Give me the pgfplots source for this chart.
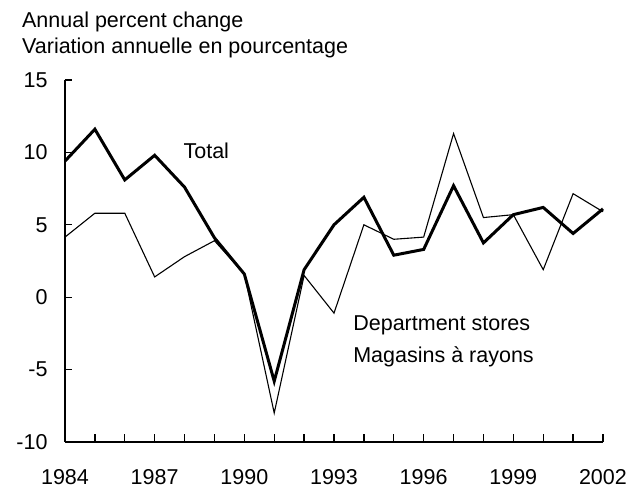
\documentclass[border=0pt]{standalone}
\usepackage{fontspec}
\setmainfont{Liberation Sans}
\usepackage{pgfplots}
\pgfplotsset{compat=1.18}
\usepackage{pgfplotstable}
\pgfplotstableread{
year total dept
1984 9.4 4.15
1985 11.6 5.8
1986 8.1 5.8
1987 9.8 1.4
1988 7.6 2.8
1989 4.1 3.9
1990 1.6 1.6
1991 -5.8 -8.0
1992 1.9 1.5
1993 5.0 -1.1
1994 6.9 5.0
1995 2.9 4.0
1996 3.3 4.15
1997 7.7 11.3
1998 3.75 5.5
1999 5.7 5.7
2000 6.2 1.9
2001 4.4 7.15
2002 6.1 5.9
}\data
\begin{document}
\begin{tikzpicture}
\begin{axis}[
  at={(0,0)}, anchor=south west,
  scale only axis, width=538pt, height=362pt,
  xmin=1984, xmax=2002, ymin=-10, ymax=15,
  axis lines=left,
  axis line style={line width=1.3pt, -},
  xtick={1984,...,2002},
  xticklabels={1984,,,1987,,,1990,,,1993,,,1996,,,1999,,,2002},
  ytick={-10,-5,0,5,10,15},
  yticklabels={-10,-5,0,5,10,15},
  tick align=inside,
  major tick length=7.5pt,
  tick style={line width=1.3pt, black},
  every tick label/.style={font=\fontsize{21.5}{25}\selectfont},
  xticklabel style={yshift=-24pt},
  yticklabel style={xshift=-14pt},
  clip=false,
  font=\fontsize{21.5}{25}\selectfont,
]
\addplot[black, line width=1.1pt] table[x=year,y=dept] {\data};
\addplot[black, line width=3pt, line join=miter] table[x=year,y=total] {\data};
\node[anchor=base west, inner sep=0] at (axis cs:1987.96,9.58) {Total};
\node[anchor=base west, inner sep=0] at (axis cs:1993.64,-2.30) {Department stores};
\node[anchor=base west, inner sep=0] at (axis cs:1993.64,-4.50) {Magasins à rayons};
\node[anchor=base west, inner sep=0] at (axis cs:1982.56,18.64) {Annual percent change};
\node[anchor=base west, inner sep=0] at (axis cs:1982.56,16.85) {Variation annuelle en pourcentage};
\end{axis}
\pgfresetboundingbox
\path[use as bounding box] (-65pt,-52pt) rectangle (572pt,442pt);
\end{tikzpicture}
\end{document}
